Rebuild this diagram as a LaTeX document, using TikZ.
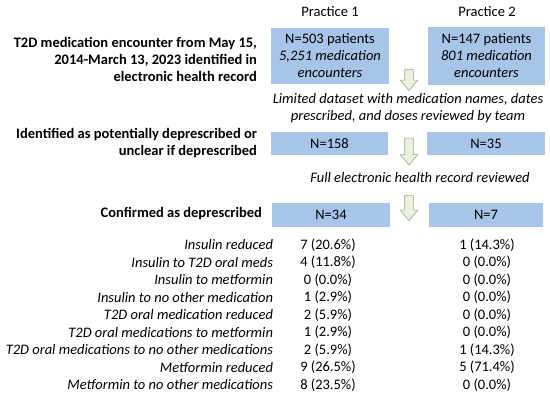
\documentclass[tikz,border=0pt]{standalone}
\usepackage{fontspec}
\setmainfont{Carlito}
\usetikzlibrary{shapes.arrows}
\definecolor{boxblue}{RGB}{168,196,232}
\definecolor{arrowfill}{RGB}{235,241,222}
\definecolor{arrowline}{RGB}{150,168,140}
\newcommand{\myfs}{\fontsize{14.5}{17}\selectfont}
\begin{document}
\begin{tikzpicture}[x=1pt,y=-1pt,
  every node/.style={font=\myfs, inner sep=0pt, outer sep=0pt},
  bluebox/.style={fill=boxblue, draw=none, align=center},
  hdr/.style={anchor=east, align=right, font=\myfs\bfseries},
  note/.style={align=center, font=\myfs\itshape},
  rowlabel/.style={anchor=east, font=\myfs\itshape},
  rowval/.style={anchor=center},
  downarrow/.style={single arrow, rotate=-90, draw=arrowline, fill=arrowfill,
    minimum width=17pt, single arrow head extend=4.5pt, inner sep=4pt,
    single arrow tip angle=80, line width=0.6pt}]
\useasboundingbox (0,0) rectangle (550,396);
% column titles
\node (p1) at (330,12) {Practice 1};
\node (p2) at (487,12) {Practice 2};
% left headers
\node[hdr] (h1) at (257,59) {T2D medication encounter from May 15,\\2014-March 13, 2023 identified in\\electronic health record};
\node[hdr] (h2) at (257,143.5) {Identified as potentially deprescribed or\\unclear if deprescribed};
\node[hdr] (h3) at (262,214) {Confirmed as deprescribed};
% boxes
\node[bluebox, minimum width=118pt, minimum height=56pt] (b1) at (330,56) {N=503 patients\\\textit{5,251 medication}\\\textit{encounters}};
\node[bluebox, minimum width=117pt, minimum height=58pt] (b2) at (486.5,56) {N=147 patients\\\textit{801 medication}\\\textit{encounters}};
\node[bluebox, minimum width=117pt, minimum height=23pt] (b3) at (329.5,143.5) {N=158};
\node[bluebox, minimum width=118pt, minimum height=23pt] (b4) at (486,143.5) {N=35};
\node[bluebox, minimum width=118pt, minimum height=24pt] (b5) at (331,215) {N=34};
\node[bluebox, minimum width=114pt, minimum height=24pt] (b6) at (486,215) {N=7};
% notes
\node[note] (n1) at (408,108.5) {Limited dataset with medication names, dates\\prescribed, and doses reviewed by team};
\node[note] (n2) at (420,178) {Full electronic health record reviewed};
% block arrows
\node[downarrow, minimum height=21pt] (a1) at (409,77.5) {};
\node[downarrow, minimum height=27pt] (a2) at (409,149) {};
\node[downarrow, minimum height=25pt] (a3) at (409,205.5) {};
% rows
\foreach \lab/\va/\vb [count=\i from 0] in {
  Insulin reduced/7 (20.6\%)/1 (14.3\%),
  Insulin to T2D oral meds/4 (11.8\%)/0 (0.0\%),
  Insulin to metformin/0 (0.0\%)/0 (0.0\%),
  Insulin to no other medication/1 (2.9\%)/0 (0.0\%),
  T2D oral medication reduced/2 (5.9\%)/0 (0.0\%),
  T2D oral medications to metformin/1 (2.9\%)/0 (0.0\%),
  T2D oral medications to no other medications/2 (5.9\%)/1 (14.3\%),
  Metformin reduced/9 (26.5\%)/5 (71.4\%),
  Metformin to no other medications/8 (23.5\%)/0 (0.0\%)} {
  \node[rowlabel] (r\i) at (273,{245+17.5*\i}) {\lab};
  \node[rowval] (ra\i) at (328,{245+17.5*\i}) {\va};
  \node[rowval] (rb\i) at (487,{245+17.5*\i}) {\vb};
}
\end{tikzpicture}
\end{document}
